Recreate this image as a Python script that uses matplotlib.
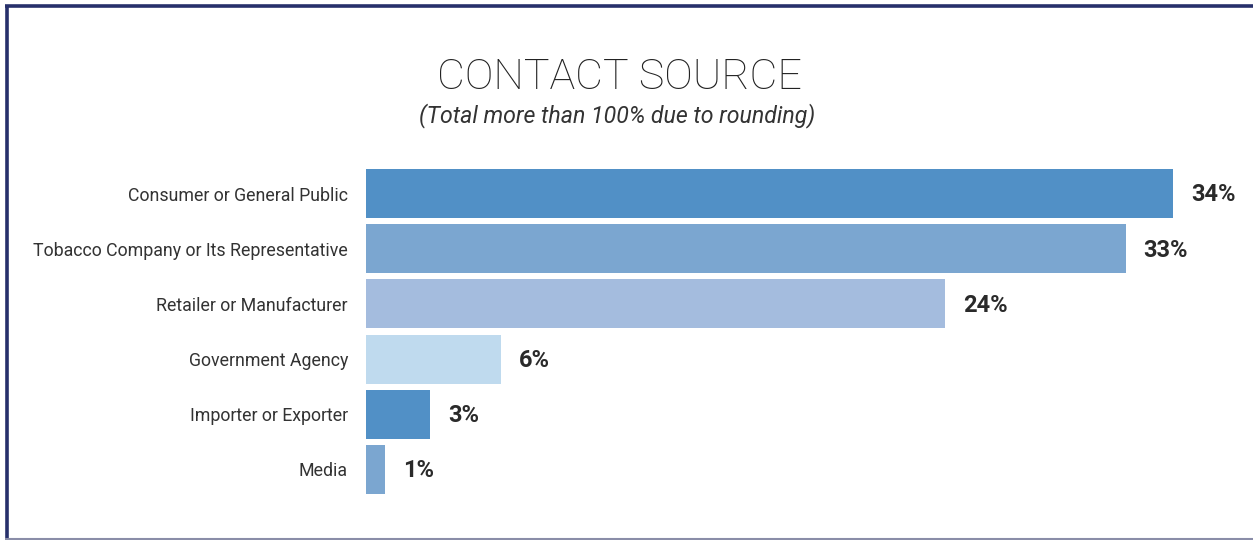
import matplotlib
matplotlib.use("Agg")
import matplotlib.pyplot as plt
from matplotlib.lines import Line2D

categories = ["Consumer or General Public", "Tobacco Company or Its Representative",
              "Retailer or Manufacturer", "Government Agency", "Importer or Exporter", "Media"]
values = [34.0, 32.0, 24.4, 5.7, 2.7, 0.8]
value_labels = ["34%", "33%", "24%", "6%", "3%", "1%"]
colors = ["#5190C6", "#7BA6D0", "#A4BCDE", "#BFDAEE", "#5190C6", "#7BA6D0"]

W, H = 1253, 540
fig = plt.figure(figsize=(W / 100, H / 100), dpi=100)
fig.patch.set_facecolor("white")

# border
fig.add_artist(Line2D([6.5 / W, 6.5 / W], [1 - 5.5 / H, 1 - 538 / H], transform=fig.transFigure,
                      color="#27306B", lw=2.6, solid_capstyle="butt"))
fig.add_artist(Line2D([5 / W, 1.0], [1 - 5.5 / H, 1 - 5.5 / H], transform=fig.transFigure,
                      color="#27306B", lw=2.6, solid_capstyle="butt"))
fig.add_artist(Line2D([5 / W, 1.0], [1 - 538.5 / H, 1 - 538.5 / H], transform=fig.transFigure,
                      color="#8A8DA8", lw=1.5, solid_capstyle="butt"))

ax_left, ax_top, ax_bottom = 366, 166, 497
xmax = 40
px_per_unit = (1173 - 366) / 34.0
ax_w = xmax * px_per_unit
ax = fig.add_axes([ax_left / W, 1 - ax_bottom / H, ax_w / W, (ax_bottom - ax_top) / H])
ypos = list(range(len(categories)))
ax.barh(ypos, values, height=0.89, color=colors)
ax.set_xlim(0, xmax)
ax.set_ylim(len(categories) - 0.5, -0.5)
for s in ax.spines.values():
    s.set_visible(False)
ax.set_xticks([])
ax.set_yticks(ypos)
ax.set_yticklabels(categories, fontsize=12.8, color="#333333", family="Roboto")
ax.tick_params(axis="y", length=0, pad=13)
ax.patch.set_alpha(0)

for y, v, lab in zip(ypos, values, value_labels):
    ax.annotate(lab, (v, y), xytext=(13, -1), textcoords="offset points",
                ha="left", va="center", fontsize=17, fontweight="bold", color="#2A2A2A",
                family="Roboto")

fig.text(619 / W, 1 - 77 / H, "CONTACT SOURCE", ha="center", va="center",
         fontsize=31, color="#222222", family="Roboto", fontweight="light")
fig.text(617 / W, 1 - 116 / H, "(Total more than 100% due to rounding)", ha="center", va="center",
         fontsize=16.7, color="#333333", family="Roboto", style="italic")

fig.savefig("out.png", dpi=100, facecolor="white")
